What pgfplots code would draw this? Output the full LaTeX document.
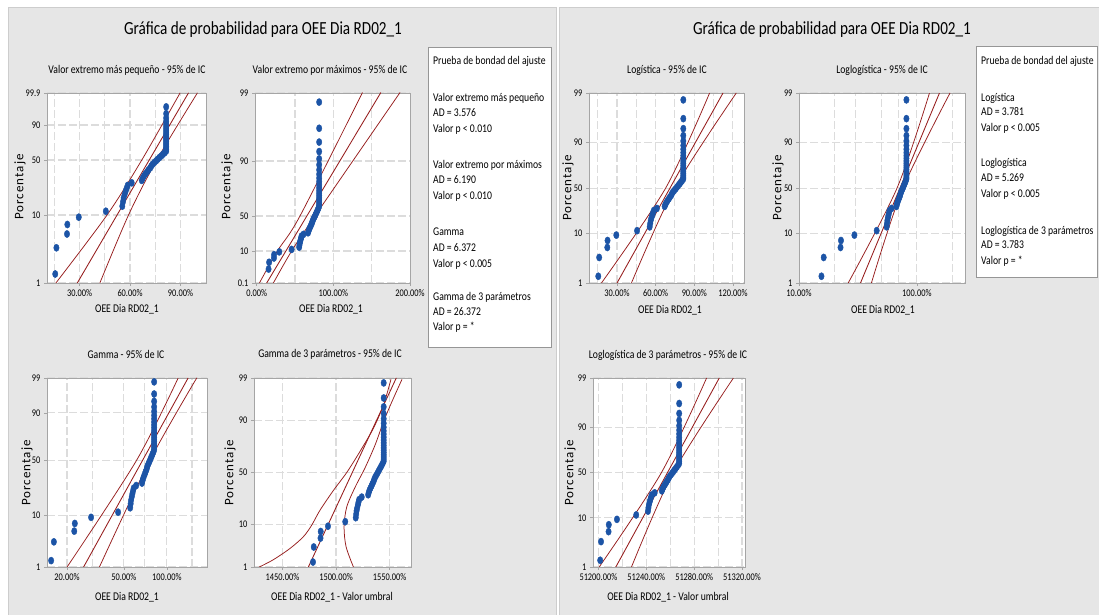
\documentclass[border=0pt]{standalone}
\usepackage{fontspec}
\setmainfont{Carlito}[FakeStretch=0.82]
\newfontfamily\ylabfont{Carlito}[LetterSpace=8]
\usepackage{pgfplots}
\pgfplotsset{compat=1.18}
\usepackage{pgfplotstable}

\definecolor{panel}{RGB}{230,230,230}
\definecolor{panelline}{RGB}{205,205,205}
\definecolor{framec}{RGB}{165,165,165}
\definecolor{gridc}{RGB}{220,220,220}
\definecolor{ptblue}{RGB}{28,84,166}
\definecolor{fitred}{RGB}{150,28,28}
\definecolor{boxc}{RGB}{150,150,150}

% v = OEE value (%), p = plotting position (%), g3 = v - threshold (3-par gamma), l3 = v - threshold (3-par loglogistic)
\pgfplotstableread{
v p g3 l3
15.5 1.389 1478.5 51201.5
16.2 3.373 1479.2 51202.2
22.5 5.357 1485.5 51208.5
22.7 7.341 1485.7 51208.7
29.5 9.325 1492.5 51215.5
45.6 11.310 1508.6 51231.6
55.4 13.294 1518.4 51241.4
55.8 15.278 1518.8 51241.8
56.2 17.262 1519.2 51242.2
56.8 19.246 1519.8 51242.8
57.4 21.230 1520.4 51243.4
58.0 23.214 1521.0 51244.0
58.6 25.198 1521.6 51244.6
61.0 27.183 1524.0 51247.0
67.0 29.167 1530.0 51253.0
67.6 31.151 1530.6 51253.6
68.3 33.135 1531.3 51254.3
69.2 35.119 1532.2 51255.2
70.2 37.103 1533.2 51256.2
71.0 39.087 1534.0 51257.0
72.0 41.071 1535.0 51258.0
72.6 43.056 1535.6 51258.6
73.4 45.040 1536.4 51259.4
74.4 47.024 1537.4 51260.4
75.5 49.008 1538.5 51261.5
76.5 50.992 1539.5 51262.5
77.5 52.976 1540.5 51263.5
78.6 54.960 1541.6 51264.6
79.6 56.944 1542.6 51265.6
80.6 58.929 1543.6 51266.6
81.5 60.913 1544.5 51267.5
81.5 62.897 1544.5 51267.5
81.5 64.881 1544.5 51267.5
81.5 66.865 1544.5 51267.5
81.5 68.849 1544.5 51267.5
81.5 70.833 1544.5 51267.5
81.5 72.817 1544.5 51267.5
81.5 74.802 1544.5 51267.5
81.5 76.786 1544.5 51267.5
81.5 78.770 1544.5 51267.5
81.5 80.754 1544.5 51267.5
81.5 82.738 1544.5 51267.5
81.5 84.722 1544.5 51267.5
81.5 86.706 1544.5 51267.5
81.5 88.690 1544.5 51267.5
81.5 90.675 1544.5 51267.5
81.5 92.659 1544.5 51267.5
81.5 94.643 1544.5 51267.5
81.5 96.627 1544.5 51267.5
81.5 98.611 1544.5 51267.5
}\oee

\pgfplotsset{
  pp/.style={
    scale only axis,
    axis background/.style={fill=white},
    axis line style={draw=framec, line width=0.8pt},
    tick style={draw=framec, line width=0.6pt},
    tick align=outside,
    major tick length=3pt,
    minor tick length=0pt,
    xtick pos=bottom, ytick pos=left,
    scaled x ticks=false, scaled y ticks=false,
    ymajorgrids=true, xminorgrids=true, xmajorgrids=false,
    major grid style={draw=gridc, line width=1.1pt, dash pattern=on 8pt off 3pt},
    minor grid style={draw=gridc, line width=1.1pt, dash pattern=on 8pt off 3pt},
    tick label style={font=\fontsize{10.2}{11}\selectfont, text=black},
    anchor=south west,
  },
  pts/.style={only marks, mark=*, mark size=3.6pt, color=ptblue,
    mark options={xscale=0.75, draw=ptblue, fill=ptblue}},
  fitl/.style={fitred, line width=0.85pt},
  cil/.style={fitred, line width=0.75pt, smooth},
}

\newcommand{\stl}{\fontsize{11.8}{13}\selectfont}
\newcommand{\lgt}{\fontsize{11.8}{13}\selectfont}

\begin{document}
\begin{tikzpicture}
\path[use as bounding box, fill=white] (0pt,0pt) rectangle (1099pt,615pt);
\fill[panel, draw=panelline] (8pt,-1pt) rectangle (556pt,608pt);
\fill[panel, draw=panelline] (559pt,-1pt) rectangle (1100pt,608pt);

% ---------- 1: smallest extreme value
\begin{axis}[pp, at={(47pt,332pt)}, width=159pt, height=190pt,
  xmin=10.6, xmax=105.2, ymin=1, ymax=99.9,
  y coord trafo/.code={\pgfmathparse{ln(-ln(1-#1/100))}},
  xtick={30,60,90}, xticklabels={30.00\%,60.00\%,90.00\%},
  minor xtick={15,30,45,60,75,90},
  ytick={1,10,50,90,99.9}, yticklabels={1,10,50,90,99.9}]
\addplot[cil] coordinates {(15.6,1) (46.3,10) (67,50) (89.8,99.9)};
\addplot[fitl] coordinates {(28.4,1) (94.8,99.9)};
\addplot[cil] coordinates {(41.9,1) (59.1,10) (75.9,50) (100.1,99.9)};
\addplot[pts] table[x=v,y=p] {\oee};
\end{axis}

% ---------- 2: largest extreme value
\begin{axis}[pp, at={(255pt,332pt)}, width=155pt, height=190pt,
  xmin=-2.2, xmax=200, ymin=0.1, ymax=99,
  y coord trafo/.code={\pgfmathparse{-ln(-ln(#1/100))}},
  xtick={0,100,200}, xticklabels={0.00\%,100.00\%,200.00\%},
  minor xtick={50,100,150},
  ytick={0.1,10,50,90,99}, yticklabels={0.1,10,50,90,99}]
\addplot[cil] coordinates {(3.5,0.1) (27,10) (56.5,50) (138,99)};
\addplot[fitl] coordinates {(13,0.1) (162,99)};
\addplot[cil] coordinates {(21.7,0.1) (45.6,10) (76,50) (187,99)};
\addplot[pts] table[x=v,y=p] {\oee};
\end{axis}

% ---------- 3: gamma
\begin{axis}[pp, at={(47pt,48pt)}, width=160pt, height=189pt,
  xmode=log, xmin=14.5, xmax=191, ymin=1, ymax=99,
  y coord trafo/.code={\pgfmathparse{ln(0.98889+0.51756*(pow(#1/100,0.14)-pow(1-#1/100,0.14)))}},
  xtick={20,50,100}, xticklabels={20.00\%,50.00\%,100.00\%},
  minor xtick={20,30,50,70,100,150},
  ytick={1,10,50,90,99}, yticklabels={1,10,50,90,99}]
\addplot[cil] coordinates {(20,1) (61.2,50) (120.1,99)};
\addplot[fitl] coordinates {(26.1,1) (141,99)};
\addplot[cil] coordinates {(33.7,1) (75.9,50) (162,99)};
\addplot[pts] table[x=v,y=p] {\oee};
\end{axis}

% ---------- 4: 3-parameter gamma
\begin{axis}[pp, at={(254pt,48pt)}, width=157pt, height=189pt,
  xmin=1423.4, xmax=1570, ymin=1, ymax=99,
  y coord trafo/.code={\pgfmathparse{4.91*(pow(#1/100,0.14)-pow(1-#1/100,0.14))}},
  xtick={1450,1500,1550}, xticklabels={1450.00\%,1500.00\%,1550.00\%},
  minor xtick={1450,1500,1550},
  ytick={1,10,50,90,99}, yticklabels={1,10,50,90,99}]
\addplot[cil] coordinates {(1428.1,1) (1441.3,1.6) (1456.9,3.1) (1469.4,5.7) (1477.2,9.7)
  (1485,17.6) (1497.5,32.8) (1510,50) (1522.5,70) (1535,86.3) (1544.4,95.2) (1551.3,98.9)};
\addplot[fitl] coordinates {(1474.1,1) (1556.3,99)};
\addplot[cil] coordinates {(1516.3,1) (1509.4,3.4) (1507.5,9.1) (1510,19.8) (1517.8,35.8)
  (1527.2,54.8) (1536.6,75.4) (1544.4,89.5) (1552.2,95.9) (1561.6,98.9)};
\addplot[pts] table[x=g3,y=p] {\oee};
\end{axis}

% ---------- 5: logistic
\begin{axis}[pp, at={(589pt,332pt)}, width=155pt, height=190pt,
  xmin=8.3, xmax=128.6, ymin=1, ymax=99,
  y coord trafo/.code={\pgfmathparse{ln(#1/(100-#1))}},
  xtick={30,60,90,120}, xticklabels={30.00\%,60.00\%,90.00\%,120.00\%},
  minor xtick={15,30,45,60,75,90,105,120},
  ytick={1,10,50,90,99}, yticklabels={1,10,50,90,99}]
\addplot[cil] coordinates {(17.9,1) (67.8,50) (101.9,99)};
\addplot[fitl] coordinates {(30,1) (112.3,99)};
\addplot[cil] coordinates {(41.2,1) (74.8,50) (122.6,99)};
\addplot[pts] table[x=v,y=p] {\oee};
\end{axis}

% ---------- 6: loglogistic
\begin{axis}[pp, at={(799pt,332pt)}, width=166pt, height=190pt,
  xmode=log, xmin=10, xmax=256, ymin=1, ymax=99,
  y coord trafo/.code={\pgfmathparse{ln(#1/(100-#1))}},
  xtick={10,100}, xticklabels={10.00\%,100.00\%},
  minor xtick={20,30,50,70,100,200},
  ytick={1,10,50,90,99}, yticklabels={1,10,50,90,99}]
\addplot[cil] coordinates {(26.1,1) (67.9,50) (127.9,99)};
\addplot[fitl] coordinates {(33.2,1) (155.5,99)};
\addplot[cil] coordinates {(41.1,1) (76.2,50) (191,99)};
\addplot[pts] table[x=v,y=p] {\oee};
\end{axis}

% ---------- 7: 3-parameter loglogistic
\begin{axis}[pp, at={(593pt,48pt)}, width=152pt, height=189pt,
  xmin=51195.5, xmax=51322.5, ymin=1, ymax=99,
  y coord trafo/.code={\pgfmathparse{ln(#1/(100-#1))}},
  xtick={51200,51240,51280,51320}, xticklabels={51200.00\%,51240.00\%,51280.00\%,51320.00\%},
  minor xtick={51200,51220,51240,51260,51280,51300,51320},
  ytick={1,10,50,90,99}, yticklabels={1,10,50,90,99}]
\addplot[cil] coordinates {(51200.6,1) (51252.7,50) (51290.4,99)};
\addplot[fitl] coordinates {(51214.5,1) (51301,99)};
\addplot[cil] coordinates {(51227.6,1) (51262.5,50) (51312.8,99)};
\addplot[pts] table[x=l3,y=p] {\oee};
\end{axis}

% ---------- titles
\node[font=\fontsize{18.5}{21}\selectfont] at (263pt,585pt) {Gráfica de probabilidad para OEE Dia RD02\_1};
\node[font=\fontsize{18.5}{21}\selectfont] at (832pt,585pt) {Gráfica de probabilidad para OEE Dia RD02\_1};

\node[font=\stl] at (127pt,545pt) {Valor extremo más pequeño - 95\% de IC};
\node[font=\stl] at (330pt,545pt) {Valor extremo por máximos - 95\% de IC};
\node[font=\stl] at (126pt,261pt) {Gamma - 95\% de IC};
\node[font=\stl] at (330pt,261pt) {Gamma de 3 parámetros - 95\% de IC};
\node[font=\stl] at (667pt,545pt) {Logística - 95\% de IC};
\node[font=\stl] at (882pt,545pt) {Loglogística - 95\% de IC};
\node[font=\stl] at (668pt,260pt) {Loglogística de 3 parámetros - 95\% de IC};

\node[font=\stl] at (127pt,306pt) {OEE Dia RD02\_1};
\node[font=\stl] at (331pt,306pt) {OEE Dia RD02\_1};
\node[font=\stl] at (127pt,18pt) {OEE Dia RD02\_1};
\node[font=\stl] at (332pt,18pt) {OEE Dia RD02\_1 - Valor umbral};
\node[font=\stl] at (670pt,305pt) {OEE Dia RD02\_1};
\node[font=\stl] at (883pt,305pt) {OEE Dia RD02\_1};
\node[font=\stl] at (668pt,18pt) {OEE Dia RD02\_1 - Valor umbral};

\foreach \xx/\yy in {20/428, 227/428, 27/142, 230/142, 568/427, 778/427, 570/142}
  \node[rotate=90, font=\ylabfont\fontsize{13}{15}\selectfont] at (\xx pt,\yy pt) {Porcentaje};

% ---------- goodness of fit boxes
\draw[boxc, fill=white, line width=0.8pt] (428pt,268pt) rectangle (551pt,568pt);
\draw[boxc, fill=white, line width=0.8pt] (976pt,338pt) rectangle (1097pt,569pt);

\foreach \yy/\tx in {554/Prueba de bondad del ajuste, 517/Valor extremo más pequeño, 502/AD = 3.576,
  486/Valor p < 0.010, 450/Valor extremo por máximos, 435/AD = 6.190, 419/Valor p < 0.010,
  383/Gamma, 367/AD = 6.372, 351/Valor p < 0.005, 318/Gamma de 3 parámetros, 303/AD = 26.372,
  288/Valor p = *}
  \node[anchor=west, font=\lgt, inner sep=0pt] at (433pt,\yy pt) {\tx};

\foreach \yy/\tx in {554/Prueba de bondad del ajuste, 517/Logística, 503/AD = 3.781,
  487/Valor p < 0.005, 452/Loglogística, 437/AD = 5.269, 421/Valor p < 0.005,
  384/Loglogística de 3 parámetros, 370/AD = 3.783, 354/Valor p = *}
  \node[anchor=west, font=\lgt, inner sep=0pt] at (981pt,\yy pt) {\tx};
\end{tikzpicture}
\end{document}
